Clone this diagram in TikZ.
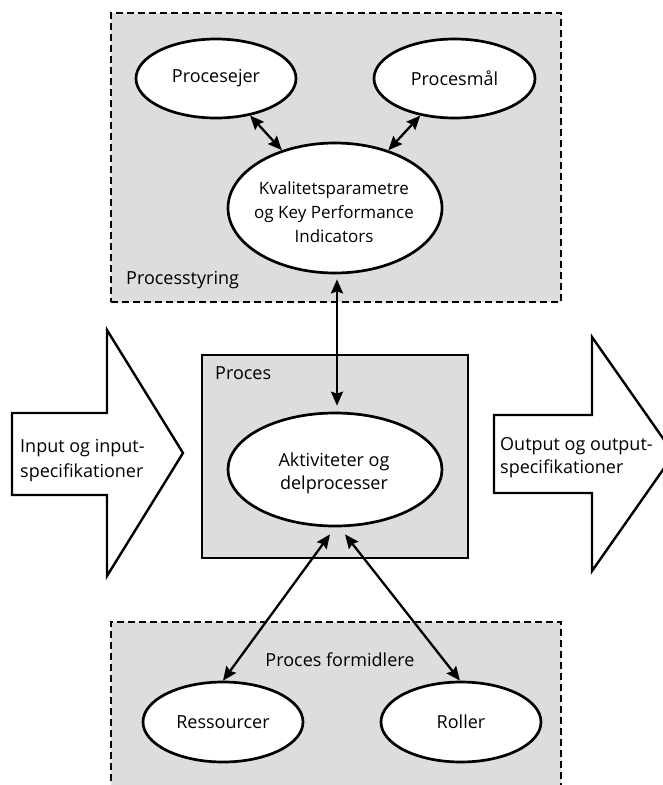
\documentclass[tikz,border=0pt]{standalone}
\usepackage{fontspec}
\setmainfont{Open Sans}
\usetikzlibrary{arrows.meta,shapes.geometric}
\definecolor{panelgray}{RGB}{220,221,223}
\tikzset{
  txt/.style={font=\fontsize{18}{24.5}\selectfont,inner sep=0pt},
  smalltxt/.style={font=\fontsize{17}{24}\selectfont,inner sep=0pt},
  oval/.style={ellipse,draw,line width=2.7pt,fill=white,inner sep=0pt,txt},
  dashpanel/.style={draw,line width=2.4pt,dash pattern=on 7pt off 4pt,fill=panelgray,inner sep=0pt},
  solidpanel/.style={draw,line width=2.6pt,fill=panelgray,inner sep=0pt},
  bigarrow/.style={draw,line width=2.4pt,fill=white,line join=miter},
  tip/.tip={Stealth[length=14pt,width=12pt,inset=2pt]},
  both/.style={line width=2.3pt,tip-tip},
}
\begin{document}
\begin{tikzpicture}[x=1pt,y=-1pt]
\useasboundingbox (0,0) rectangle (663,785);
\clip (0,0) rectangle (663,785);
\fill[white] (0,0) rectangle (663,785);

% containers
\node[dashpanel,minimum width=450pt,minimum height=289pt] (styring) at (336,157.5) {};
\node[dashpanel,minimum width=450pt,minimum height=180pt] (formidl) at (336,712) {};
\node[solidpanel,minimum width=266pt,minimum height=203pt] (proces) at (335,456.5) {};

\node[txt,anchor=west] (styringlbl) at (126,280) {Processtyring};
\node[txt,anchor=west] (proceslbl) at (215,373) {Proces};
\node[txt] (formidllbl) at (340,660) {Proces formidlere};

% input and output block arrows
\draw[bigarrow] (12,413) -- (107,413) -- (107,330) -- (183,453) -- (107,576) -- (107,495) -- (12,495) -- cycle;
\node[txt,anchor=west,align=left,font=\fontsize{18}{25}\selectfont] (input) at (20,461) {Input og input-\\specifikationer};
\draw[bigarrow] (494,415) -- (592,415) -- (592,337) -- (674,454) -- (592,571) -- (592,493) -- (494,493) -- cycle;
\node[txt,anchor=west,align=left,font=\fontsize{18}{23}\selectfont] (output) at (500,458) {Output og output-\\specifikationer};

% ellipses
\node[oval,minimum width=160pt,minimum height=79pt] (ejer) at (216,78.5) {Procesejer};
\node[oval,minimum width=161pt,minimum height=79pt] (maal) at (454.5,78.5) {Procesmål};
\node[oval,minimum width=214pt,minimum height=130pt] (kpi) at (335,208) {};
\node[smalltxt,align=center] (kpitxt) at (334,212) {Kvalitetsparametre\\og Key Performance\\Indicators};
\node[oval,minimum width=214pt,minimum height=113pt] (akt) at (335,469.5) {};
\node[txt,align=center,font=\fontsize{18}{23}\selectfont] (akttxt) at (334,473) {Aktiviteter og\\delprocesser};
\node[oval,minimum width=160pt,minimum height=80pt] (res) at (223,722) {Ressourcer};
\node[oval,minimum width=160pt,minimum height=80pt] (rol) at (461,722) {Roller};

% connectors
\draw[both] (ejer) -- (kpi);
\draw[both] (maal) -- (kpi);
\draw[both,shorten <=5pt,shorten >=6pt] ([xshift=2pt]kpi.south) -- ([xshift=2pt]akt.north);
\draw[both] ([xshift=-5pt,yshift=-7pt]akt.south) -- (res.north);
\draw[both] ([xshift=10pt,yshift=-7pt]akt.south) -- ([xshift=-1pt]rol.north);
\end{tikzpicture}
\end{document}
